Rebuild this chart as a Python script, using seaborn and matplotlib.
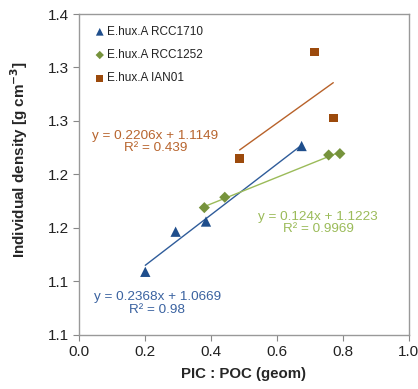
import matplotlib
matplotlib.use("Agg")
import matplotlib.pyplot as plt
import seaborn as sns
import pandas as pd
import numpy as np

# ---- data ----
strains = ["E.hux.A RCC1710", "E.hux.A RCC1252", "E.hux.A IAN01"]
x_1710 = [0.201, 0.293, 0.385, 0.675]
y_1710 = [1.109, 1.1465, 1.156, 1.2266]
x_1252 = [0.380, 0.442, 0.757, 0.791]
y_1252 = [1.169, 1.1787, 1.2182, 1.2195]
x_ian = [0.487, 0.715, 0.771]
y_ian = [1.2148, 1.3145, 1.2528]
eq_texts = ["y = 0.2368x + 1.0669\nR² = 0.98",
            "y = 0.124x + 1.1223\nR² = 0.9969",
            "y = 0.2206x + 1.1149\nR² = 0.439"]
y_ticks = [1.05, 1.10, 1.15, 1.20, 1.25, 1.30, 1.35]
y_tick_labels = ["1.1", "1.1", "1.2", "1.2", "1.3", "1.3", "1.4"]
x_ticks = [0.0, 0.2, 0.4, 0.6, 0.8, 1.0]
x_tick_labels = ["0.0", "0.2", "0.4", "0.6", "0.8", "1.0"]

df = pd.DataFrame({
    "x": x_1710 + x_1252 + x_ian,
    "y": y_1710 + y_1252 + y_ian,
    "strain": [strains[0]] * len(x_1710) + [strains[1]] * len(x_1252) + [strains[2]] * len(x_ian),
})

marker_colors = {strains[0]: "#1F4E8C", strains[1]: "#76933C", strains[2]: "#9C4A0C"}
line_colors = {strains[0]: "#2F5C9A", strains[1]: "#9BBB59", strains[2]: "#B8622A"}
text_colors = {strains[0]: "#3A62A0", strains[1]: "#9BBB59", strains[2]: "#B8652E"}
markers = {strains[0]: "^", strains[1]: "D", strains[2]: "s"}
sizes = {strains[0]: 55, strains[1]: 32, strains[2]: 40}

sns.set_theme(style="white")
plt.rcParams["font.family"] = ["Liberation Sans", "DejaVu Sans"]

fig = plt.figure(figsize=(4.18, 3.89), dpi=100)
ax = fig.add_axes([0.189, 0.139, 0.789, 0.825])

# trend lines
for s in strains:
    sub = df[df.strain == s]
    sns.regplot(data=sub, x="x", y="y", ax=ax, scatter=False, ci=None, truncate=True,
                line_kws={"color": line_colors[s], "lw": 1.0}, label=None)

# points
for s in strains:
    sub = df[df.strain == s]
    sns.scatterplot(data=sub, x="x", y="y", ax=ax, marker=markers[s], s=sizes[s],
                    color=marker_colors[s], edgecolor="none", label=s, zorder=3)

ax.set_xlim(0, 1.0)
ax.set_ylim(1.05, 1.35)
ax.set_xticks(x_ticks)
ax.set_xticklabels(x_tick_labels)
ax.set_yticks(y_ticks)
ax.set_yticklabels(y_tick_labels)
ax.tick_params(axis="both", which="major", direction="out", length=4, width=0.8,
               color="#888888", labelsize=11, labelcolor="#222222", pad=3)
ax.tick_params(bottom=True, left=True)
for sp in ax.spines.values():
    sp.set_color("#999999")
    sp.set_linewidth(1.0)

ax.set_xlabel("PIC : POC (geom)", fontsize=10.8, fontweight="bold", labelpad=6)
ax.set_ylabel("Individual density [g cm$^{\\mathbf{-3}}$]", fontsize=11, fontweight="bold")
ax.yaxis.set_label_coords(-0.15, 0.548)

def pix_to_axes(px, py):
    return ((px - 79) / 330.0, (335 - py) / 321.0)

pos = {strains[0]: (157.5, 303.5), strains[1]: (318.5, 223), strains[2]: (155.5, 142)}
for i, s in enumerate(strains):
    ax_x, ax_y = pix_to_axes(*pos[s])
    ax.text(ax_x, ax_y, eq_texts[i], transform=ax.transAxes, ha="center", va="center",
            color=text_colors[s], fontsize=9.7, linespacing=1.05)

leg = ax.legend(loc="upper left", bbox_to_anchor=(0.02, 0.985), frameon=False, fontsize=8.5,
                handletextpad=0.0, labelspacing=0.95, borderaxespad=0.2, handlelength=1.2,
                markerscale=0.75)
for t in leg.get_texts():
    t.set_color("#222222")

fig.savefig("out.png", dpi=100)
